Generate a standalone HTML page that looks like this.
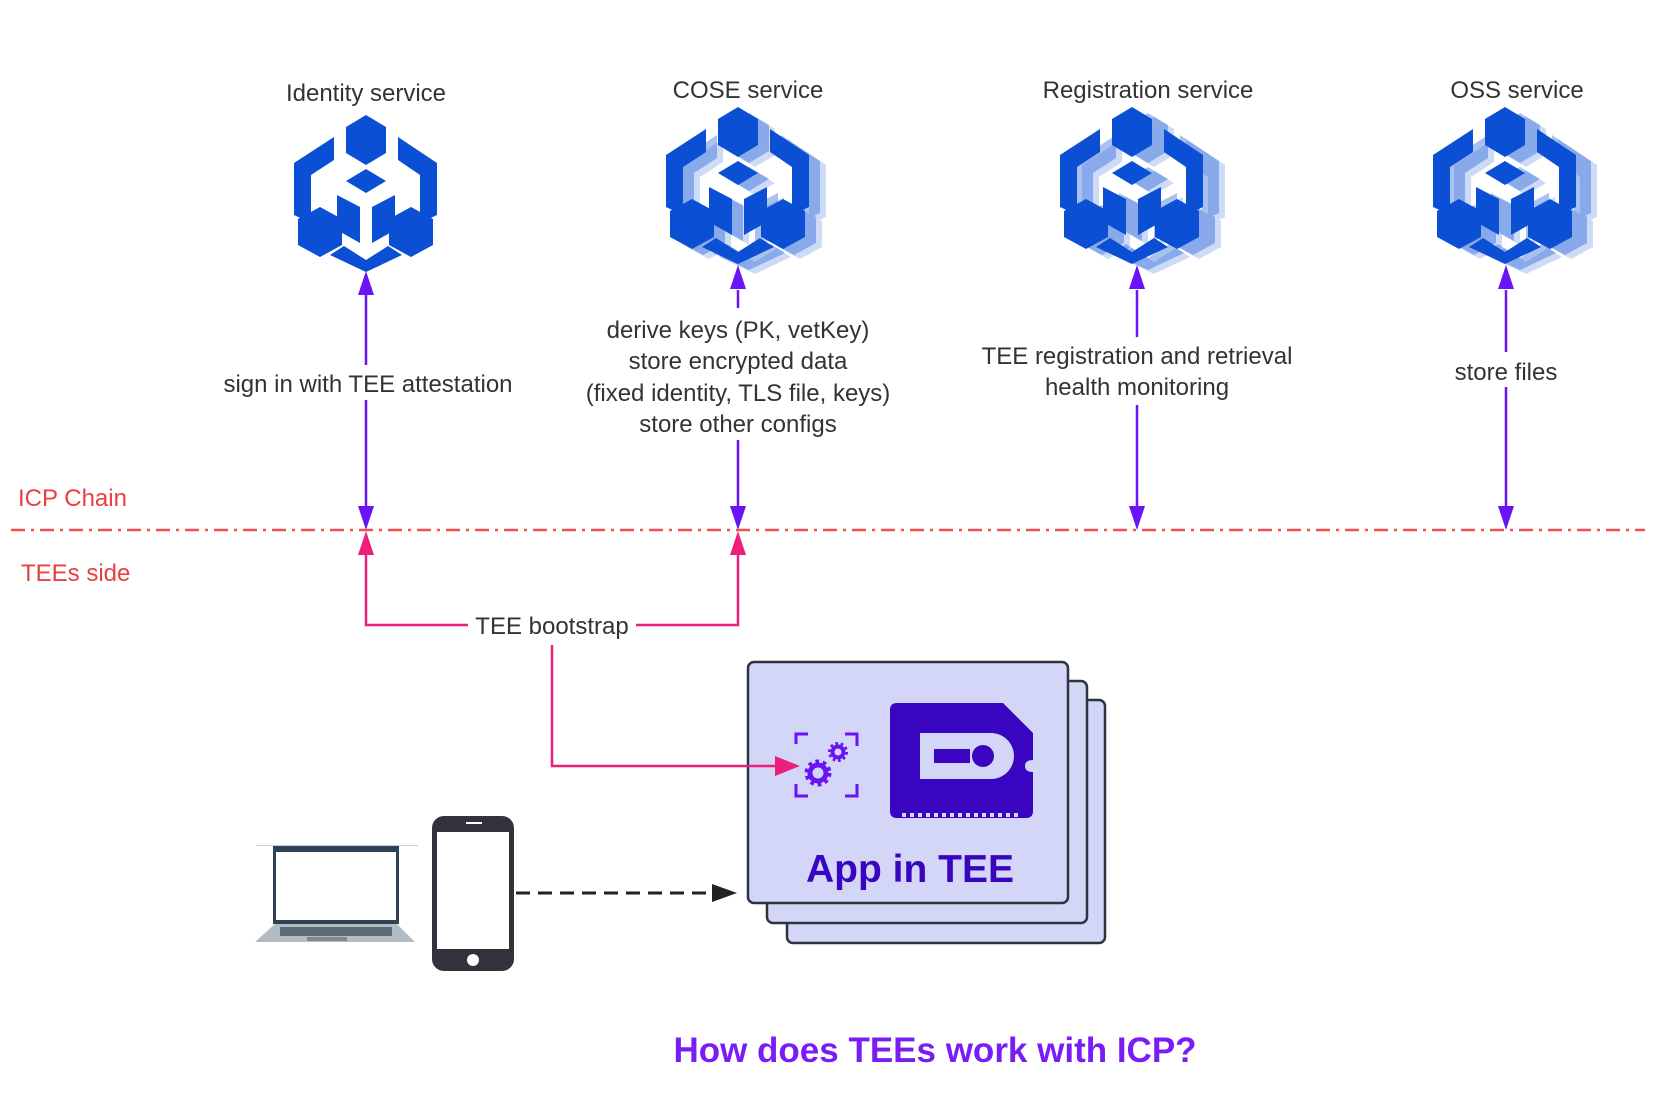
<!DOCTYPE html>
<html><head><meta charset="utf-8"><style>
html,body{margin:0;padding:0;background:#fff;}
body{width:1680px;height:1096px;position:relative;overflow:hidden;font-family:"Liberation Sans","DejaVu Sans",sans-serif;}
svg text{font-family:"Liberation Sans","DejaVu Sans",sans-serif;}
</style></head><body>
<svg width="1680" height="1096" viewBox="0 0 1680 1096" xmlns="http://www.w3.org/2000/svg">
<defs>
<g id="ic">
 <polygon points="72,0 92,12 92,38 72,50 52,38 52,12"/>
 <polygon points="40,22 0,48 0,100 17,108 17,60 40,45"/>
 <polygon points="104,22 143,48 143,100 126,108 126,60 104,45"/>
 <polygon points="72,54 92,66 72,78 52,66"/>
 <polygon points="43,80 66,92 66,128 43,115"/>
 <polygon points="101,80 78,92 78,128 101,115"/>
 <polygon points="26,92 48,104 48,130 26,142 4,130 4,104"/>
 <polygon points="117,92 139,104 139,130 117,142 95,130 95,104"/>
 <polygon points="36,140 50,131 72,145 94,131 108,140 72,157"/>
</g>
</defs>

<g font-size="24" fill="#333" text-anchor="middle">
<text x="366" y="101">Identity service</text>
<text x="748" y="98">COSE service</text>
<text x="1148" y="98">Registration service</text>
<text x="1517" y="98">OSS service</text>
</g>

<use href="#ic" x="294" y="115" fill="#0a4fd4"/>
<g fill="#0a4fd4">
<use href="#ic" x="683" y="117" opacity="0.2"/><use href="#ic" x="677" y="113" opacity="0.35"/><use href="#ic" x="666" y="107"/>
<use href="#ic" x="1082" y="117" opacity="0.2"/><use href="#ic" x="1076" y="113" opacity="0.35"/><use href="#ic" x="1060" y="107"/>
<use href="#ic" x="1454" y="117" opacity="0.2"/><use href="#ic" x="1448" y="113" opacity="0.35"/><use href="#ic" x="1433" y="107"/>
</g>

<g stroke="#6a14f5" stroke-width="2.5" fill="none">
<line x1="366" y1="290" x2="366" y2="365"/><line x1="366" y1="400" x2="366" y2="510"/>
<line x1="738" y1="290" x2="738" y2="308"/><line x1="738" y1="440" x2="738" y2="510"/>
<line x1="1137" y1="290" x2="1137" y2="337"/><line x1="1137" y1="405" x2="1137" y2="510"/>
<line x1="1506" y1="290" x2="1506" y2="352"/><line x1="1506" y1="387" x2="1506" y2="510"/>
</g>
<g fill="#6a14f5">
<polygon points="358,295 374,295 366,271"/><polygon points="358,506 374,506 366,530"/>
<polygon points="730,289 746,289 738,265"/><polygon points="730,506 746,506 738,530"/>
<polygon points="1129,289 1145,289 1137,265"/><polygon points="1129,506 1145,506 1137,530"/>
<polygon points="1498,289 1514,289 1506,265"/><polygon points="1498,506 1514,506 1506,530"/>
</g>

<g font-size="24" fill="#333" text-anchor="middle">
<text x="368" y="392">sign in with TEE attestation</text>
<text x="738" y="338">derive keys (PK, vetKey)</text>
<text x="738" y="369">store encrypted data</text>
<text x="738" y="401">(fixed identity, TLS file, keys)</text>
<text x="738" y="432">store other configs</text>
<text x="1137" y="364">TEE registration and retrieval</text>
<text x="1137" y="395">health monitoring</text>
<text x="1506" y="380">store files</text>
</g>

<line x1="11" y1="530" x2="1645" y2="530" stroke="#ee4f4f" stroke-width="2.5" stroke-dasharray="14,6,3,6"/>
<text x="18" y="506" font-size="24" fill="#e8403f">ICP Chain</text>
<text x="21" y="581" font-size="24" fill="#e8403f">TEEs side</text>

<g stroke="#2d3440" stroke-width="2.5" fill="#d3d6f6">
<rect x="787" y="700" width="318" height="243" rx="6"/>
<rect x="767" y="681" width="320" height="242" rx="6"/>
<rect x="748" y="662" width="320" height="241" rx="6"/>
</g>

<g stroke="#ec1f7a" stroke-width="2.5" fill="none">
<polyline points="366,550 366,625 468,625"/>
<polyline points="636,625 738,625 738,550"/>
<polyline points="552,645 552,766 780,766"/>
</g>
<g fill="#ec1f7a">
<polygon points="358,555 374,555 366,531"/><polygon points="730,555 746,555 738,531"/>
<polygon points="775,756 775,776 800,766"/>
</g>
<text x="552" y="634" font-size="24" fill="#333" text-anchor="middle">TEE bootstrap</text>

<g stroke="#6a14f5" stroke-width="3" fill="none">
<polyline points="796,744 796,734 808,734"/><polyline points="845,734 857,734 857,746"/>
<polyline points="796,784 796,796 808,796"/><polyline points="845,796 857,796 857,784"/>
</g>
<g stroke="#6a14f5" stroke-width="5" stroke-dasharray="3.5,3.5" fill="none">
<circle cx="818" cy="773" r="11"/>
</g>
<g stroke="#6a14f5" stroke-width="4" stroke-dasharray="2.5,2.5" fill="none">
<circle cx="838" cy="752" r="8"/>
</g>
<circle cx="818" cy="773" r="8" fill="none" stroke="#6a14f5" stroke-width="5"/>
<circle cx="838" cy="752" r="5.5" fill="none" stroke="#6a14f5" stroke-width="4"/>

<path d="M890,710 Q890,703 897,703 L1003,703 L1033,733 L1033,760 Q1025,760 1025,766 Q1025,772 1033,772 L1033,811 Q1033,818 1026,818 L897,818 Q890,818 890,811 Z" fill="#3a05c0"/>
<path d="M920,733 L991,733 A23,23 0 0 1 991,779 L920,779 Z" fill="#d3d6f6"/>
<rect x="920" y="749" width="50" height="14" fill="#3a05c0"/>
<rect x="920" y="733" width="14" height="46" fill="#d3d6f6"/>
<circle cx="983" cy="756" r="11" fill="#3a05c0"/>
<line x1="902" y1="815" x2="1022" y2="815" stroke="#d3d6f6" stroke-width="4" stroke-dasharray="4,4"/>
<text x="910" y="882" font-size="39" font-weight="bold" fill="#3a05c0" text-anchor="middle">App in TEE</text>

<rect x="256" y="845" width="162" height="1" fill="#ccc"/>
<rect x="273" y="846" width="126" height="78" fill="#2f4257"/>
<rect x="276" y="852" width="120" height="68" fill="#fff"/>
<path d="M275,924 L397,924 L415,942 L255,942 Z" fill="#b3bcc3"/>
<rect x="280" y="927" width="112" height="9" fill="#5e6b77"/>
<rect x="307" y="937" width="40" height="4" fill="#7d8890"/>
<rect x="432" y="816" width="82" height="155" rx="12" fill="#31323b"/>
<rect x="437" y="832" width="72" height="117" fill="#fff"/>
<circle cx="473" cy="960" r="6" fill="#fff"/>
<rect x="466" y="822" width="16" height="2" fill="#fff"/>
<line x1="516" y1="893" x2="712" y2="893" stroke="#222" stroke-width="3" stroke-dasharray="14,8"/>
<polygon points="712,884 712,902 737,893" fill="#222"/>

<text x="935" y="1062" font-size="35" font-weight="bold" fill="#7a1cf5" text-anchor="middle">How does TEEs work with ICP?</text>
</svg>
</body></html>
